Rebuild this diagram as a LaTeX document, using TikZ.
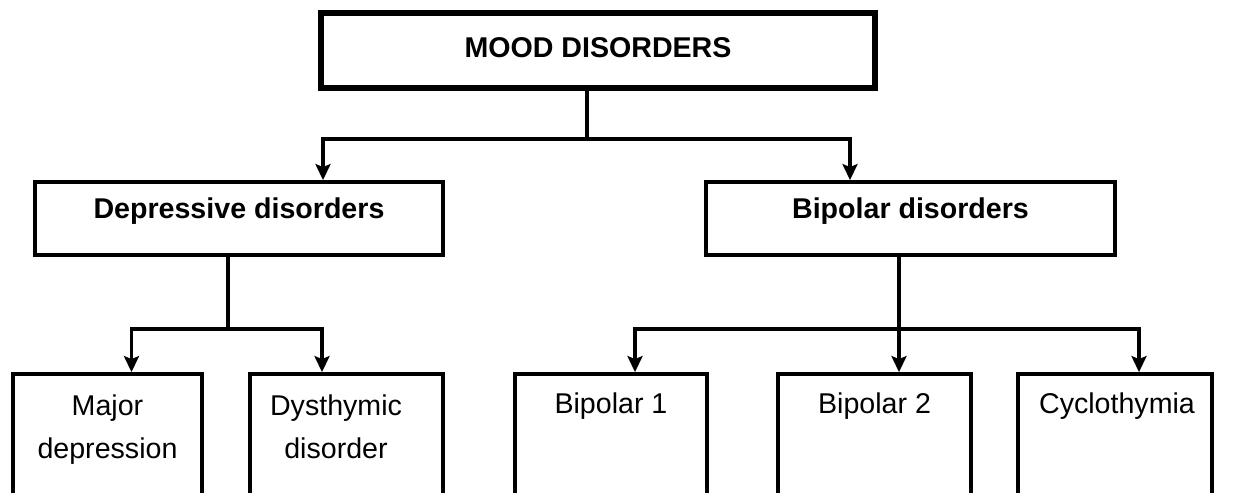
\documentclass[tikz,border=0pt]{standalone}
\usepackage{fontspec}
\setmainfont{Liberation Sans}
\usetikzlibrary{arrows.meta}

\begin{document}
\begin{tikzpicture}[x=1pt, y=-1pt,
    box/.style={draw, line width=3.8pt, inner sep=0pt},
    txt/.style={font=\fontsize{28.6}{43}\selectfont, inner sep=0pt, align=center},
    btxt/.style={font=\fontsize{28.6}{34}\selectfont\bfseries, inner sep=0pt},
    link/.style={line width=3.6pt},
    arr/.style={link, -{Stealth[length=16pt,width=15pt,inset=3pt]}}]

    \useasboundingbox (0,0) rectangle (1238,492);

    % top level
    \node[box, line width=5.8pt, minimum width=554pt, minimum height=75pt] (mood) at (598,50.5) {};
    \node[btxt, anchor=base] (moodtxt) at (598,58) {MOOD DISORDERS};

    % second level
    \node[box, minimum width=408pt, minimum height=73pt] (dep) at (239,218.5) {};
    \node[btxt, anchor=base] (deptxt) at (239,218) {Depressive disorders};
    \node[box, minimum width=409pt, minimum height=73pt] (bip) at (910.5,218.5) {};
    \node[btxt, anchor=base] (biptxt) at (910.5,218) {Bipolar disorders};

    % third level, cut off by the lower edge
    \node[box, minimum width=189pt, minimum height=121pt] (major) at (107.5,434.5) {};
    \node[txt, anchor=north] (majortxt) at (107.5,395) {Major\\depression};
    \node[box, minimum width=193pt, minimum height=121pt] (dysth) at (346.5,434.5) {};
    \node[txt, anchor=north] (dysthtxt) at (336,394.5) {Dysthymic\\disorder};
    \node[box, minimum width=192pt, minimum height=121pt] (bione) at (611,434.5) {};
    \node[txt, anchor=base] (bionetxt) at (611,413) {Bipolar 1};
    \node[box, minimum width=193pt, minimum height=121pt] (bitwo) at (874.5,434.5) {};
    \node[txt, anchor=base] (bitwotxt) at (874.5,413) {Bipolar 2};
    \node[box, minimum width=194pt, minimum height=121pt] (cyclo) at (1115,434.5) {};
    \node[txt, anchor=base] (cyclotxt) at (1117,413) {Cyclothymia};

    % connectors
    \draw[link] ([xshift=-11pt]mood.south) -- ++(0,48) coordinate (moodsplit);
    \draw[arr] (moodsplit) -| ([xshift=84pt]dep.north);
    \draw[arr] (moodsplit) -| ([xshift=-60.5pt]bip.north);

    \draw[link] ([xshift=-11pt]dep.south) -- ++(0,72) coordinate (depsplit);
    \draw[arr] (depsplit) -| ([xshift=24pt]major.north);
    \draw[arr] (depsplit) -| ([xshift=-24.5pt]dysth.north);

    \draw[arr] ([xshift=-11.5pt]bip.south) -- ([xshift=24.5pt]bitwo.north);
    \path ([xshift=-11.5pt]bip.south) ++(0,72) coordinate (bipsplit);
    \draw[arr] (bipsplit) -| ([xshift=24pt]bione.north);
    \draw[arr] (bipsplit) -| ([xshift=24pt]cyclo.north);
\end{tikzpicture}
\end{document}
